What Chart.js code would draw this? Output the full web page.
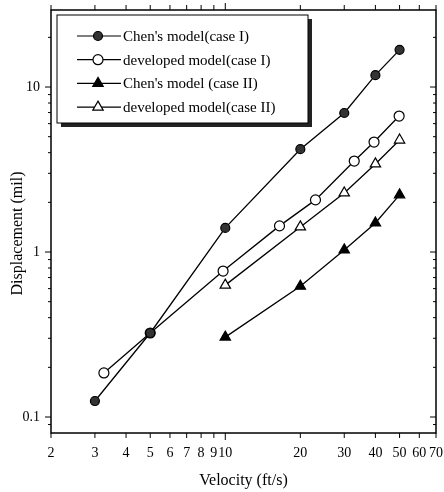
<!DOCTYPE html>
<html>
<head>
<meta charset="utf-8">
<script src="https://cdn.jsdelivr.net/npm/chart.js@4.4.0/dist/chart.umd.min.js"></script>
<style>
  html, body { margin: 0; padding: 0; background: #fff; }
</style>
</head>
<body>
<canvas id="chart" width="444" height="492"></canvas>
<script>
// data
const velChenI = [3, 5, 10, 20, 30, 40, 50];
const dispChenI = [0.125, 0.323, 1.40, 4.2, 6.96, 11.8, 16.8];
const velDevI = [3.26, 5, 9.8, 16.5, 23, 32.9, 39.5, 49.8];
const dispDevI = [0.185, 0.323, 0.767, 1.44, 2.07, 3.56, 4.64, 6.67];
const velChenII = [10, 20, 30, 40, 50];
const dispChenII = [0.305, 0.62, 1.03, 1.5, 2.22];
const velDevII = [10, 20, 30, 40, 50];
const dispDevII = [0.63, 1.42, 2.28, 3.42, 4.77];

const labels = ["Chen's model(case I)", "developed model(case I)", "Chen's model (case II)", "developed model(case II)"];

// axes
const xTicks = [2, 3, 4, 5, 6, 7, 8, 9, 10, 20, 30, 40, 50, 60, 70];
const yTicks = [0.1, 1, 10];
const yMinor = [0.09, 0.2, 0.3, 0.4, 0.5, 0.6, 0.7, 0.8, 0.9, 2, 3, 4, 5, 6, 7, 8, 9, 20];

const serif = "'Liberation Serif', 'DejaVu Serif', serif";

const pts = (xs, ys) => xs.map((v, i) => ({ x: v, y: ys[i] }));

// caixa, marcas dos eixos e legenda
const frame = {
  id: "frame",
  afterDraw(chart) {
    const { ctx, chartArea: a, scales: { x, y } } = chart;
    ctx.save();
    ctx.strokeStyle = "#000";
    ctx.lineWidth = 1.5;
    ctx.strokeRect(a.left, a.top, a.right - a.left, a.bottom - a.top);

    ctx.lineWidth = 1;
    ctx.beginPath();
    xTicks.forEach(v => {
      const px = x.getPixelForValue(v);
      const len = v === 10 ? 7 : 5;
      ctx.moveTo(px, a.bottom); ctx.lineTo(px, a.bottom + len);
      ctx.moveTo(px, a.top); ctx.lineTo(px, a.top - len);
    });
    yTicks.forEach(v => {
      const py = y.getPixelForValue(v);
      ctx.moveTo(a.left, py); ctx.lineTo(a.left - 6, py);
      ctx.moveTo(a.right, py); ctx.lineTo(a.right - 6, py);
    });
    yMinor.forEach(v => {
      const py = y.getPixelForValue(v);
      ctx.moveTo(a.left, py); ctx.lineTo(a.left - 3, py);
      ctx.moveTo(a.right, py); ctx.lineTo(a.right - 3, py);
    });
    ctx.stroke();

    // legenda
    const bx = 57, by = 15, bw = 251, bh = 108;
    ctx.fillStyle = "#222";
    ctx.fillRect(bx + 4, by + 4, bw, bh);
    ctx.fillStyle = "#fff";
    ctx.fillRect(bx, by, bw, bh);
    ctx.strokeStyle = "#000";
    ctx.lineWidth = 1;
    ctx.strokeRect(bx, by, bw, bh);

    ctx.font = "15px " + serif;
    ctx.textBaseline = "middle";
    ctx.textAlign = "left";
    chart.data.datasets.forEach((ds, i) => {
      const ry = 36 + i * 23.7;
      ctx.strokeStyle = "#000";
      ctx.lineWidth = 1.2;
      ctx.beginPath();
      ctx.moveTo(77, ry); ctx.lineTo(121, ry);
      ctx.stroke();
      drawMarker(ctx, ds, 98, ry);
      ctx.fillStyle = "#000";
      ctx.fillText(ds.label, 123, ry + 1);
    });
    ctx.restore();
  }
};

function drawMarker(ctx, ds, cx, cy) {
  const r = ds.pointRadius;
  ctx.beginPath();
  if (ds.pointStyle === "triangle") {
    ctx.moveTo(cx, cy - r);
    ctx.lineTo(cx + r * 0.87, cy + r * 0.5);
    ctx.lineTo(cx - r * 0.87, cy + r * 0.5);
    ctx.closePath();
  } else {
    ctx.arc(cx, cy, r, 0, Math.PI * 2);
  }
  ctx.fillStyle = ds.pointBackgroundColor;
  ctx.fill();
  ctx.lineWidth = ds.pointBorderWidth;
  ctx.strokeStyle = "#000";
  ctx.stroke();
}

const base = {
  borderColor: "#000",
  borderWidth: 1.3,
  pointBorderColor: "#000",
  pointBorderWidth: 1.2,
  tension: 0
};

// tira o recuo automatico dos rotulos
const noPad = s => { s.paddingLeft = 0; s.paddingRight = 0; s.paddingTop = 0; s.paddingBottom = 0; };

new Chart(document.getElementById("chart"), {
  type: "line",
  data: {
    datasets: [
      { ...base, label: labels[0], data: pts(velChenI, dispChenI), pointStyle: "circle", pointRadius: 4.5, pointBackgroundColor: "#333" },
      { ...base, label: labels[1], data: pts(velDevI, dispDevI), pointStyle: "circle", pointRadius: 5, pointBackgroundColor: "#fff" },
      { ...base, label: labels[2], data: pts(velChenII, dispChenII), pointStyle: "triangle", pointRadius: 6, pointBackgroundColor: "#000" },
      { ...base, label: labels[3], data: pts(velDevII, dispDevII), pointStyle: "triangle", pointRadius: 6, pointBackgroundColor: "#fff" }
    ]
  },
  options: {
    responsive: false,
    animation: false,
    layout: { padding: { top: 10, right: 8, left: 0, bottom: 0 } },
    plugins: {
      legend: { display: false },
      tooltip: { enabled: false }
    },
    scales: {
      x: {
        type: "logarithmic",
        min: 2,
        max: 70,
        afterBuildTicks: s => { s.ticks = xTicks.map(v => ({ value: v })); },
        afterFit: s => { s.height = 59; noPad(s); },
        grid: { display: false, drawTicks: false },
        border: { display: false },
        ticks: {
          autoSkip: false,
          maxRotation: 0,
          padding: 12,
          color: "#000",
          font: { family: serif, size: 14 },
          callback: v => String(v)
        },
        title: {
          display: true,
          text: "Velocity (ft/s)",
          color: "#000",
          font: { family: serif, size: 16 },
          padding: { top: 0, bottom: 2 }
        }
      },
      y: {
        type: "logarithmic",
        min: 0.08,
        max: 29.3,
        afterBuildTicks: s => { s.ticks = yTicks.map(v => ({ value: v })); },
        afterFit: s => { s.width = 51; noPad(s); },
        grid: { display: false, drawTicks: false },
        border: { display: false },
        ticks: {
          padding: 11,
          color: "#000",
          font: { family: serif, size: 14 },
          callback: v => String(v)
        },
        title: {
          display: true,
          text: "Displacement (mil)      ",
          color: "#000",
          font: { family: serif, size: 16 },
          padding: { top: 8, bottom: 0 }
        }
      }
    }
  },
  plugins: [frame]
});
</script>
</body>
</html>
